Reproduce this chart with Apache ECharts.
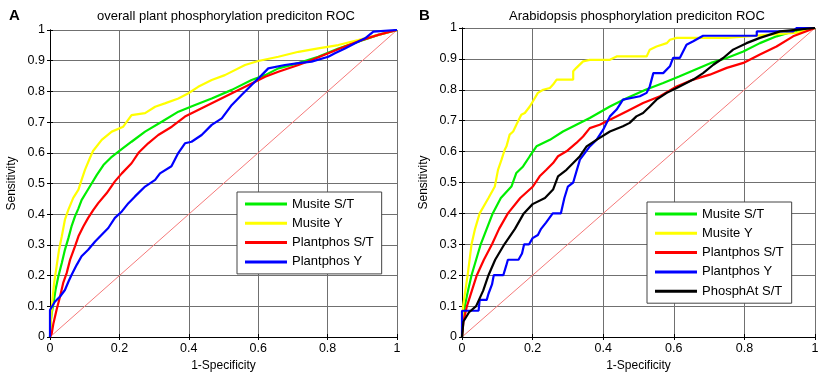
<!DOCTYPE html>
<html>
<head>
<meta charset="utf-8">
<script src="https://cdn.jsdelivr.net/npm/echarts@6/dist/echarts.min.js"></script>
<style>
  html, body { margin: 0; padding: 0; background: #fff; }
  #chart { width: 827px; height: 379px; }
</style>
</head>
<body>
<div id="chart"></div>
<script>
// ROC 曲线数据 [1-Specificity, Sensitivity]
var legendA = ['Musite S/T', 'Musite Y', 'Plantphos S/T', 'Plantphos Y'];
var legendB = ['Musite S/T', 'Musite Y', 'Plantphos S/T', 'Plantphos Y', 'PhosphAt S/T'];
var diagonal = [[0, 0], [1, 1]];

var aMusiteST = [[0,0],[0.002,0.05],[0.005,0.078],[0.01,0.11],[0.016,0.154],[0.024,0.197],[0.034,0.241],[0.043,0.284],
    [0.053,0.322],[0.062,0.36],[0.072,0.393],[0.082,0.419],[0.091,0.446],[0.106,0.474],[0.12,0.5],[0.135,0.528],
    [0.154,0.56],[0.178,0.587],[0.2,0.606],[0.235,0.636],[0.274,0.669],[0.322,0.701],[0.37,0.734],[0.418,0.756],
    [0.466,0.777],[0.524,0.805],[0.581,0.837],[0.62,0.853],[0.658,0.875],[0.716,0.892],[0.773,0.913],[0.831,0.94],
    [0.888,0.962],[0.946,0.984],[1,1]];
var aMusiteY = [[0,0],[0.003,0.06],[0.007,0.121],[0.012,0.176],[0.019,0.23],[0.026,0.284],[0.034,0.328],[0.043,0.382],
    [0.053,0.415],[0.067,0.453],[0.082,0.48],[0.091,0.512],[0.101,0.545],[0.115,0.583],[0.124,0.606],[0.149,0.642],
    [0.178,0.669],[0.211,0.685],[0.235,0.723],[0.274,0.729],[0.303,0.75],[0.331,0.761],[0.37,0.777],[0.399,0.794],
    [0.427,0.815],[0.466,0.837],[0.504,0.853],[0.562,0.886],[0.6,0.899],[0.658,0.913],[0.716,0.929],[0.773,0.94],
    [0.831,0.951],[0.888,0.967],[0.946,0.984],[1,1]];
var aPlantphosST = [[0,0],[0.005,0.012],[0.01,0.045],[0.019,0.089],[0.029,0.132],[0.038,0.176],[0.048,0.208],[0.058,0.252],
    [0.072,0.295],[0.082,0.328],[0.096,0.36],[0.11,0.388],[0.125,0.414],[0.139,0.436],[0.163,0.468],[0.187,0.507],
    [0.207,0.533],[0.235,0.566],[0.255,0.6],[0.283,0.631],[0.312,0.658],[0.351,0.685],[0.389,0.718],[0.437,0.745],
    [0.485,0.772],[0.533,0.799],[0.581,0.826],[0.62,0.848],[0.658,0.864],[0.716,0.886],[0.754,0.902],[0.802,0.924],
    [0.85,0.946],[0.898,0.967],[0.946,0.984],[1,1]];
var aPlantphosY = [[0,0],[0,0.088],[0.014,0.115],[0.029,0.132],[0.043,0.153],[0.053,0.18],[0.062,0.202],[0.077,0.235],
    [0.091,0.263],[0.11,0.284],[0.13,0.311],[0.149,0.333],[0.168,0.355],[0.187,0.388],[0.207,0.409],[0.226,0.436],
    [0.245,0.458],[0.274,0.49],[0.303,0.512],[0.317,0.533],[0.35,0.556],[0.37,0.6],[0.389,0.631],[0.408,0.636],
    [0.437,0.658],[0.466,0.691],[0.495,0.712],[0.524,0.756],[0.552,0.788],[0.581,0.821],[0.61,0.853],[0.629,0.875],
    [0.677,0.886],[0.716,0.892],[0.754,0.897],[0.802,0.913],[0.821,0.924],[0.85,0.94],[0.879,0.957],[0.908,0.973],
    [0.932,0.995],[1,1]];

var bMusiteST = [[0,0],[0.002,0.05],[0.008,0.1],[0.017,0.15],[0.027,0.2],[0.04,0.25],[0.053,0.3],[0.07,0.35],[0.087,0.4],
    [0.11,0.45],[0.14,0.487],[0.154,0.531],[0.173,0.552],[0.192,0.585],[0.211,0.617],[0.249,0.638],[0.286,0.665],
    [0.324,0.687],[0.362,0.709],[0.419,0.746],[0.466,0.773],[0.52,0.8],[0.57,0.822],[0.615,0.843],[0.66,0.865],
    [0.705,0.887],[0.75,0.903],[0.797,0.924],[0.844,0.951],[0.891,0.973],[0.938,0.989],[1,1]];
var bMusiteY = [[0,0],[0.003,0.1],[0.016,0.2],[0.027,0.3],[0.037,0.35],[0.05,0.4],[0.075,0.45],[0.093,0.487],
    [0.102,0.541],[0.112,0.574],[0.121,0.606],[0.126,0.617],[0.135,0.655],[0.145,0.665],[0.154,0.687],[0.168,0.719],
    [0.178,0.725],[0.192,0.746],[0.201,0.763],[0.215,0.79],[0.23,0.8],[0.249,0.806],[0.258,0.817],[0.268,0.833],
    [0.315,0.833],[0.315,0.86],[0.324,0.871],[0.343,0.892],[0.362,0.897],[0.419,0.897],[0.438,0.908],[0.523,0.908],
    [0.532,0.93],[0.551,0.94],[0.58,0.951],[0.589,0.962],[0.608,0.968],[0.75,0.968],[0.95,0.985],[1,1]];
var bPlantphosST = [[0,0],[0.004,0.05],[0.014,0.1],[0.028,0.15],[0.042,0.2],[0.062,0.25],[0.085,0.3],[0.105,0.35],
    [0.13,0.4],[0.165,0.45],[0.201,0.487],[0.22,0.52],[0.239,0.541],[0.258,0.563],[0.272,0.585],[0.296,0.601],
    [0.324,0.628],[0.343,0.649],[0.362,0.676],[0.39,0.687],[0.419,0.703],[0.466,0.73],[0.513,0.757],[0.561,0.779],
    [0.608,0.811],[0.655,0.833],[0.702,0.849],[0.75,0.871],[0.797,0.887],[0.844,0.914],[0.891,0.94],[0.938,0.973],[1,1]];
var bPlantphosY = [[0,0],[0,0.085],[0.047,0.085],[0.05,0.12],[0.07,0.12],[0.075,0.14],[0.085,0.17],[0.09,0.2],
    [0.117,0.2],[0.125,0.23],[0.13,0.25],[0.16,0.25],[0.17,0.27],[0.176,0.3],[0.19,0.3],[0.2,0.32],[0.215,0.33],
    [0.224,0.35],[0.238,0.37],[0.257,0.4],[0.28,0.4],[0.29,0.45],[0.3,0.487],[0.315,0.5],[0.334,0.574],[0.362,0.617],
    [0.381,0.638],[0.4,0.671],[0.419,0.714],[0.438,0.736],[0.456,0.768],[0.504,0.779],[0.523,0.79],[0.532,0.811],
    [0.542,0.854],[0.57,0.854],[0.589,0.876],[0.598,0.903],[0.617,0.903],[0.636,0.946],[0.655,0.957],[0.683,0.975],
    [0.835,0.975],[0.835,0.989],[0.938,0.989],[0.948,1],[1,1]];
var bPhosphAtST = [[0,0],[0.004,0.05],[0.02,0.08],[0.04,0.1],[0.06,0.15],[0.075,0.2],[0.094,0.25],[0.12,0.3],
    [0.15,0.35],[0.175,0.4],[0.2,0.43],[0.235,0.45],[0.258,0.477],[0.272,0.52],[0.296,0.541],[0.315,0.563],
    [0.334,0.585],[0.353,0.617],[0.381,0.638],[0.419,0.665],[0.456,0.682],[0.475,0.693],[0.494,0.714],[0.513,0.725],
    [0.532,0.746],[0.551,0.768],[0.58,0.79],[0.608,0.806],[0.655,0.833],[0.683,0.854],[0.712,0.881],[0.74,0.903],
    [0.768,0.93],[0.806,0.951],[0.844,0.968],[0.901,0.989],[1,1]];

var FONT = '"Liberation Sans", Arial, sans-serif';

function mainX(idx) {
    return {
        type : 'value', gridIndex : idx, min : 0, max : 1, interval : 0.2,
        name : '1-Specificity', nameLocation : 'middle', nameGap : 21,
        nameTextStyle : { color : '#000', fontSize : 12, fontFamily : FONT },
        axisLine : { lineStyle : { color : '#000', width : 1 } },
        axisTick : { inside : true, length : 3, lineStyle : { color : '#000' } },
        axisLabel : { color : '#000', fontSize : 12.5, fontFamily : FONT, margin : 5 },
        splitLine : { show : true, lineStyle : { color : '#707070', width : 1 } }
    };
}
function mainY(idx) {
    return {
        type : 'value', gridIndex : idx, min : 0, max : 1, interval : 0.1,
        name : 'Sensitivity', nameLocation : 'middle', nameGap : 32,
        nameTextStyle : { color : '#000', fontSize : 12, fontFamily : FONT },
        axisLine : { lineStyle : { color : '#000', width : 1 } },
        axisTick : { inside : true, length : 3, lineStyle : { color : '#000' } },
        axisLabel : { color : '#000', fontSize : 12.5, fontFamily : FONT, margin : 5 },
        splitLine : { show : true, lineStyle : { color : '#707070', width : 1 } }
    };
}
function boxX(idx) {
    return {
        type : 'value', gridIndex : idx, min : 0, max : 1, interval : 0.2, position : 'top',
        axisLine : { lineStyle : { color : '#000', width : 1 } },
        axisTick : { inside : true, length : 3, lineStyle : { color : '#000' } },
        axisLabel : { show : false }, splitLine : { show : false }
    };
}
function boxY(idx) {
    return {
        type : 'value', gridIndex : idx, min : 0, max : 1, interval : 0.1, position : 'right',
        axisLine : { lineStyle : { color : '#000', width : 1 } },
        axisTick : { inside : true, length : 3, lineStyle : { color : '#000' } },
        axisLabel : { show : false }, splitLine : { show : false }
    };
}
function curve(name, data, color, idx) {
    return {
        name : name, type : 'line', xAxisIndex : idx, yAxisIndex : idx,
        data : data, showSymbol : false, symbol : 'none',
        itemStyle : { color : color },
        lineStyle : { color : color, width : 2.2 }
    };
}
function legendBox(names, left, top) {
    return {
        data : names, orient : 'vertical', left : left, top : top,
        icon : 'rect', itemWidth : 42, itemHeight : 3, itemGap : 5.3,
        padding : [5, 8, 5, 8],
        backgroundColor : '#fff', borderColor : '#444', borderWidth : 1,
        textStyle : { color : '#000', fontSize : 13, fontFamily : FONT, lineHeight : 14 }
    };
}

var chart = echarts.init(document.getElementById('chart'), null, { renderer : 'canvas' });
var option = {
    animation : false,
    backgroundColor : '#fff',
    title : [ {
        text : 'A', left : 4, top : 3,
        textStyle : { fontSize : 15, fontWeight : 'bold', color : '#000', fontFamily : FONT }
    }, {
        text : 'overall plant phosphorylation prediciton ROC', left : 92, top : 5,
        textStyle : { fontSize : 13, fontWeight : 'normal', color : '#000', fontFamily : FONT }
    }, {
        text : 'B', left : 414, top : 3,
        textStyle : { fontSize : 15, fontWeight : 'bold', color : '#000', fontFamily : FONT }
    }, {
        text : 'Arabidopsis phosphorylation prediciton ROC', left : 504, top : 5,
        textStyle : { fontSize : 13, fontWeight : 'normal', color : '#000', fontFamily : FONT }
    } ],
    legend : [ legendBox(legendA, 237, 192), legendBox(legendB, 647, 202) ],
    grid : [
        { left : 50, top : 30, width : 347, height : 307 },
        { left : 462, top : 28, width : 353, height : 309 }
    ],
    xAxis : [ mainX(0), mainX(1), boxX(0), boxX(1) ],
    yAxis : [ mainY(0), mainY(1), boxY(0), boxY(1) ],
    series : [
        { name : 'diagA', type : 'line', xAxisIndex : 0, yAxisIndex : 0, data : diagonal, showSymbol : false,
          lineStyle : { color : '#f57a7a', width : 1 } },
        curve('Musite S/T', aMusiteST, '#00ee00', 0),
        curve('Musite Y', aMusiteY, '#ffff00', 0),
        curve('Plantphos S/T', aPlantphosST, '#ff0000', 0),
        curve('Plantphos Y', aPlantphosY, '#0000ff', 0),
        { name : 'diagB', type : 'line', xAxisIndex : 1, yAxisIndex : 1, data : diagonal, showSymbol : false,
          lineStyle : { color : '#f57a7a', width : 1 } },
        curve('Musite S/T', bMusiteST, '#00ee00', 1),
        curve('Musite Y', bMusiteY, '#ffff00', 1),
        curve('Plantphos S/T', bPlantphosST, '#ff0000', 1),
        curve('Plantphos Y', bPlantphosY, '#0000ff', 1),
        curve('PhosphAt S/T', bPhosphAtST, '#000000', 1)
    ]
};
chart.setOption(option);
</script>
</body>
</html>
